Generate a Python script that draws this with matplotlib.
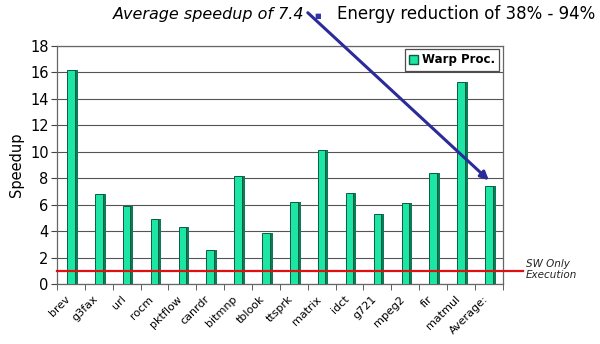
import matplotlib
matplotlib.use("Agg")
import matplotlib.pyplot as plt
from matplotlib.patches import Patch
import matplotlib.transforms as mtransforms
import numpy as np

categories = ["brev", "g3fax", "url", "rocm", "pktflow", "canrdr", "bitmnp", "tblook",
              "ttsprk", "matrix", "idct", "g721", "mpeg2", "fir", "matmul", "Average:"]
speedup = [16.2, 6.8, 5.9, 4.9, 4.3, 2.6, 8.2, 3.9, 6.2, 10.1, 6.9, 5.3, 6.1, 8.4, 15.3, 7.4]
sw_only = 1.0
yticks = list(range(0, 19, 2))

plt.rcParams['font.family'] = ['DejaVu Sans']

fig = plt.figure(figsize=(6.0, 3.44), dpi=100)
ax = fig.add_axes([0.095, 0.1735, 0.743, 0.6935])

x = np.arange(len(categories))
front = '#1de6a4'
side = '#0d7a58'
w = 0.27
# side face (3D look)
ax.bar(x + w * 0.4, speedup, width=w, color=side, edgecolor='none', zorder=2)
ax.bar(x, speedup, width=w, color=front, edgecolor='#0b5c42', linewidth=0.7, zorder=3)

ax.set_xlim(-0.5, len(categories) - 0.5)
ax.set_ylim(0, 18)
ax.set_yticks(yticks)
ax.yaxis.grid(True, color='#555555', linewidth=0.8, zorder=1)
ax.set_axisbelow(True)

ax.set_xticks(x)
ax.set_xticklabels(categories, rotation=45, ha='right', rotation_mode='anchor', fontsize=8)
ax.tick_params(axis='x', which='major', length=0, pad=7)
offset = mtransforms.ScaledTranslation(-0.06, 0, fig.dpi_scale_trans)
for lbl in ax.get_xticklabels():
    lbl.set_transform(lbl.get_transform() + offset)
ax.set_xticks(np.arange(-0.5, len(categories)), minor=True)
ax.tick_params(axis='x', which='minor', length=4, direction='out', color='#444444')
ax.tick_params(axis='y', labelsize=10.5, length=4, color='#444444', pad=2)

for s in ax.spines.values():
    s.set_color('#666666')
    s.set_linewidth(0.9)

ax.set_ylabel("Speedup", fontsize=10.5, labelpad=4)

# SW only line extends beyond the plot
ax.plot([0, 1.045], [sw_only, sw_only], transform=ax.get_yaxis_transform(),
        color='#e01010', linewidth=1.6, clip_on=False, zorder=4)
ax.text(1.052, sw_only + 0.1, "SW Only\nExecution", transform=ax.get_yaxis_transform(),
        fontsize=7.5, style='italic', va='center', ha='left', color='#222222', linespacing=1.1)

leg = ax.legend(handles=[Patch(facecolor=front, edgecolor='#0b5c42', label='Warp Proc.')],
                loc='upper right', prop={'weight': 'bold', 'size': 8.5},
                frameon=True, fancybox=False, handlelength=0.8, handleheight=0.8,
                handletextpad=0.3, borderpad=0.35, borderaxespad=0.3)
leg.get_frame().set_edgecolor('#222222')
leg.get_frame().set_linewidth(0.9)

# annotation text and arrow to the average bar
fig.text(0.508, 0.958, "Average speedup of 7.4", fontsize=11.5, style='italic',
         ha='right', va='center')
ax.annotate("", xy=(len(categories) - 1, speedup[-1] + 0.45),
            xytext=(0.513, 0.963), textcoords='figure fraction',
            arrowprops=dict(arrowstyle='-|>', color='#2b2b99', lw=2.2,
                            mutation_scale=12, shrinkA=0, shrinkB=0),
            annotation_clip=False)

fig.text(0.53, 0.953, "\u25a0", color='#3333aa', fontsize=5, ha='center', va='center')
fig.text(0.561, 0.958, "Energy reduction of 38% - 94%", fontsize=12, ha='left', va='center')

fig.savefig("out.png", dpi=100)
